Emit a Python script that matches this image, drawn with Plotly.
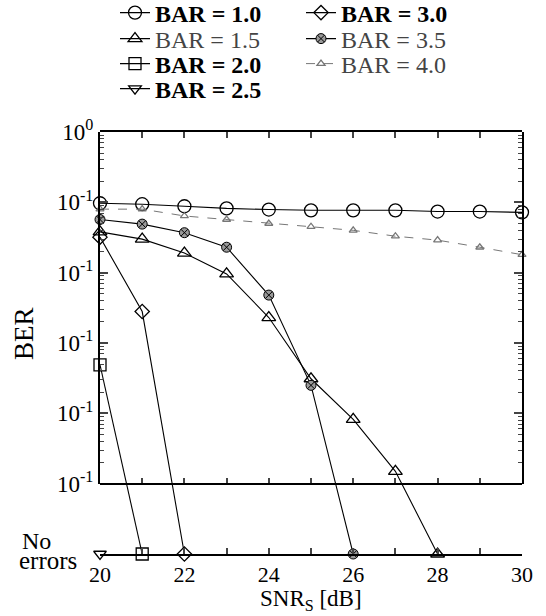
import plotly.graph_objects as go

# SNR_S sweep [dB]
snr = list(range(20, 31))

# BER per bit-allocation ratio; 0 means no errors were counted
ber_10 = [0.097, 0.094, 0.088, 0.082, 0.079, 0.077, 0.077, 0.077, 0.074, 0.074, 0.072]
ber_15 = [0.038, 0.030, 0.019, 0.0096, 0.0023, 3.1e-4, 8.2e-5, 1.5e-5, 0]
ber_20 = [4.9e-4, 0]
ber_25 = [0]
ber_30 = [0.032, 0.0028, 0]
ber_35 = [0.057, 0.049, 0.037, 0.023, 0.0048, 2.5e-4, 0]
ber_40 = [0.080, 0.080, 0.064, 0.057, 0.050, 0.045, 0.040, 0.033, 0.029, 0.023, 0.018]

x_ticks = [20, 22, 24, 26, 28, 30]
y_ticks = [1, 1e-1, 1e-2, 1e-3, 1e-4, 1e-5]
y_ticktext = ["10<sup>0</sup>"] + ["10<sup>-1</sup>"] * 5

NO_ERR = 1e-6          # row where error-free points are placed
FONT = "Liberation Serif"
W, H = 546, 616
ML, MR, MT, MB = 100, 24, 132, 62
PW, PH = W - ML - MR, H - MT - MB


def px(x):  # pixel column -> paper x
    return (x - ML) / PW


def py(y):  # pixel row -> paper y
    return (H - MB - y) / PH


def floor(vals):
    return [v if v > 0 else NO_ERR for v in vals]


series = [
    # name, values, symbol, size, fill, line colour, dash, bold, legend column, legend row
    ("BAR = 1.0", ber_10, "circle-open", 13, None, "black", "solid", True, 0, 0),
    ("BAR = 1.5", ber_15, "triangle-up-open", 12, None, "black", "solid", False, 0, 1),
    ("BAR = 2.0", ber_20, "square-open", 12, None, "black", "solid", True, 0, 2),
    ("BAR = 2.5", ber_25, "triangle-down-open", 11, None, "black", "solid", True, 0, 3),
    ("BAR = 3.0", ber_30, "diamond-open", 11, None, "black", "solid", True, 1, 0),
    ("BAR = 3.5", ber_35, "circle-x", 10, "#9a9a9a", "black", "solid", False, 1, 1),
    ("BAR = 4.0", ber_40, "triangle-up-open", 7, None, "#777777", "dash", False, 1, 2),
]

legend_cols = [115, 301]       # left edge of each key column (px)
legend_rows = [13, 39, 64, 89]  # centre of each key row (px)

fig = go.Figure()
legends = {}
for i, (name, vals, sym, size, fill, lc, dash, bold, col, row) in enumerate(series):
    label = f"<b>{name}</b>" if bold else f"<span style='color:#444'>{name}</span>"
    marker = dict(symbol=sym, size=size, color=lc, line=dict(color=lc, width=1.3))
    if fill:
        marker = dict(symbol=sym, size=size, color=fill, line=dict(color="black", width=1))
    leg = f"legend{i + 2}"
    fig.add_trace(go.Scatter(
        x=snr[:len(vals)], y=floor(vals), name=label, mode="lines+markers",
        line=dict(color=lc, width=1.1 if dash == "solid" else 1, dash=dash),
        marker=marker, cliponaxis=False, legend=leg, showlegend=True,
    ))
    legends[leg] = dict(
        xref="container", yref="container", x=legend_cols[col] / W, y=1 - legend_rows[row] / H,
        xanchor="left", yanchor="middle", font=dict(family=FONT, size=24),
        bgcolor="rgba(0,0,0,0)", itemwidth=30, borderwidth=0,
    )

# empty traces that carry the framing axes
fig.add_trace(go.Scatter(x=[], y=[], xaxis="x", yaxis="y2", showlegend=False))
fig.add_trace(go.Scatter(x=[], y=[], xaxis="x2", yaxis="y", showlegend=False))

minor_y = [k * 10.0 ** e for e in range(-5, 0) for k in range(2, 10)]
box_bottom = 1 / 6  # paper height of 1e-5 on the data axis

fig.update_layout(
    width=W, height=H, showlegend=True,
    margin=dict(l=ML, r=MR, t=MT, b=MB, autoexpand=False),
    paper_bgcolor="white", plot_bgcolor="rgba(0,0,0,0)",
    font=dict(family=FONT, size=20, color="black"),
    xaxis=dict(
        range=[20, 30], anchor="y", showline=True, linewidth=2, linecolor="black",
        ticks="inside", ticklen=6, tickwidth=1.5, tickvals=x_ticks, tickangle=0,
        minor=dict(ticks="inside", dtick=1, ticklen=6, tickwidth=1.5, showgrid=False),
        mirror="ticks", showgrid=False, zeroline=False, automargin=False,
        tickfont=dict(family=FONT, size=22),
    ),
    xaxis2=dict(
        range=[20, 30], overlaying="x", anchor="free", position=box_bottom,
        showline=True, linewidth=2, linecolor="black", ticks="inside", ticklen=5,
        tickwidth=1.5, dtick=1, showticklabels=False, showgrid=False, zeroline=False,
    ),
    yaxis=dict(
        type="log", range=[-6, 0], domain=[0, 1], showline=False, ticks="",
        showticklabels=False, showgrid=False, zeroline=False,
    ),
    yaxis2=dict(
        type="log", range=[-5, 0], domain=[box_bottom, 1], anchor="x",
        showline=True, linewidth=2, linecolor="black", mirror="ticks",
        ticks="inside", ticklen=8, tickwidth=1.5, tickvals=y_ticks, ticktext=y_ticktext,
        minor=dict(ticks="inside", tickvals=minor_y, ticklen=4, tickwidth=1, showgrid=False),
        showgrid=False, zeroline=False, automargin=False, tickfont=dict(family=FONT, size=23),
    ),
    annotations=[
        dict(text="BER", xref="paper", yref="paper", x=px(24), y=py(334), textangle=-90,
             xanchor="center", yanchor="middle",
             showarrow=False, font=dict(family=FONT, size=27)),
        dict(text="SNR<sub>S</sub> [dB]", xref="paper", yref="paper", x=0.5, y=py(600),
             xanchor="center", yanchor="middle", showarrow=False, font=dict(family=FONT, size=23)),
        dict(text="No", xref="paper", yref="paper", x=px(20), y=py(541),
             xanchor="left", yanchor="middle", showarrow=False, font=dict(family=FONT, size=24)),
        dict(text="errors", xref="paper", yref="paper", x=px(17), y=py(560),
             xanchor="left", yanchor="middle", showarrow=False, font=dict(family=FONT, size=25)),
    ],
    **legends,
)

fig.write_html("out.html")
